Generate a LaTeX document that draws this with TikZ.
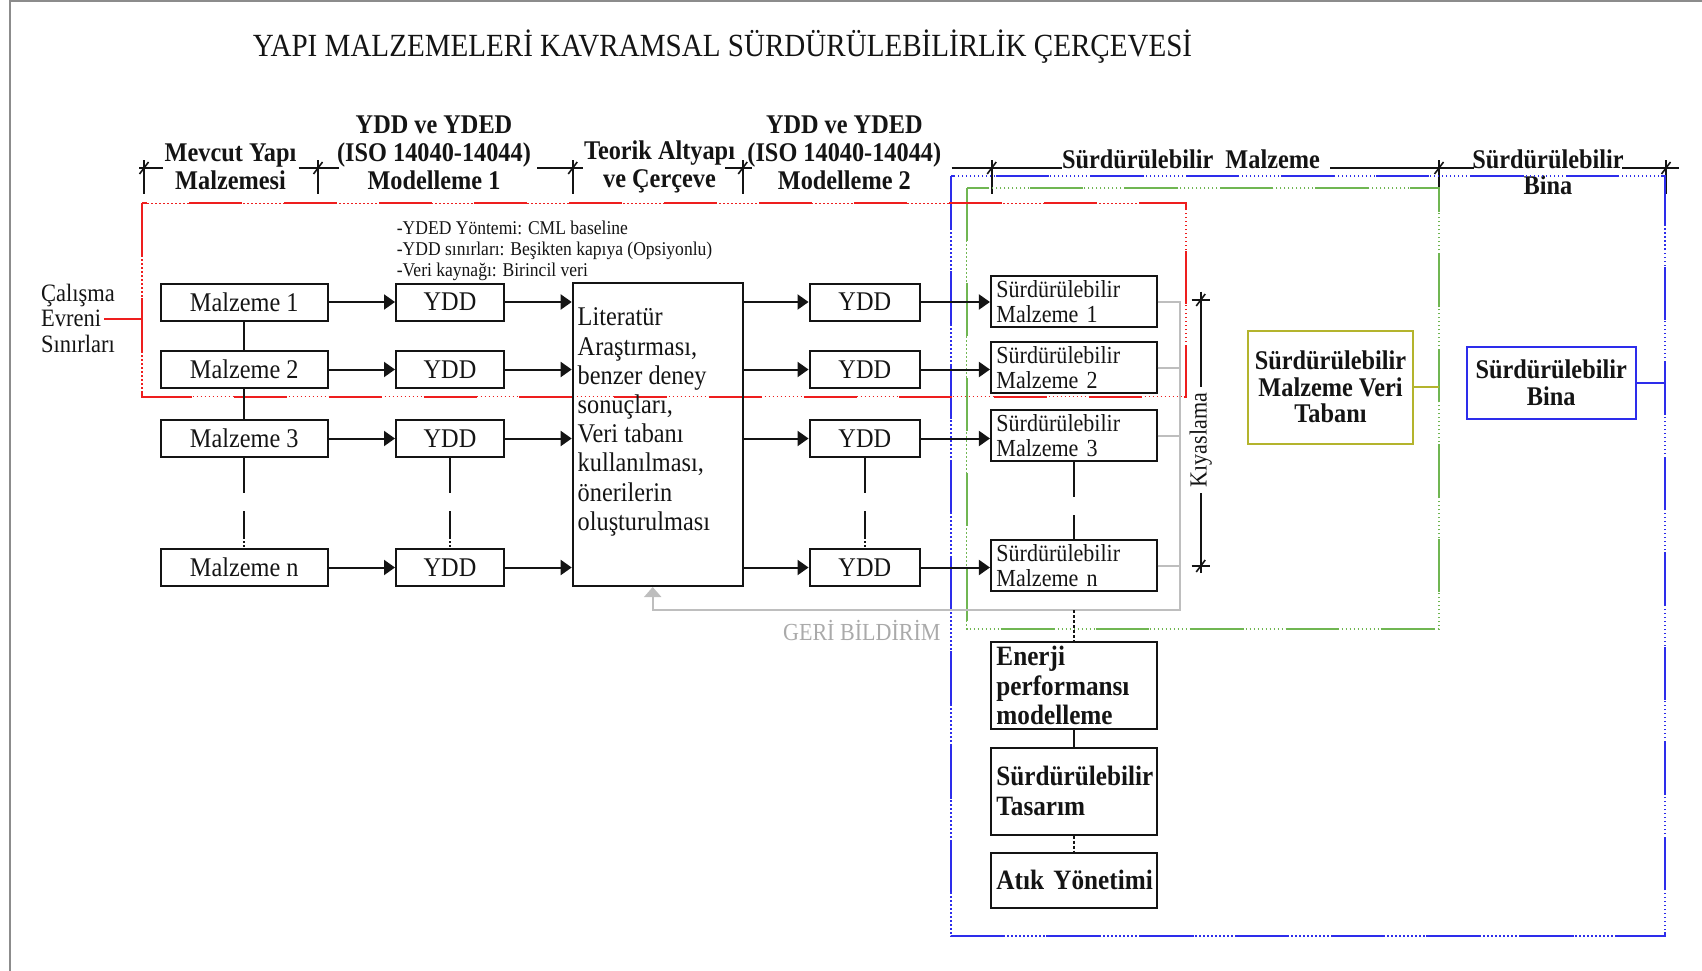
\documentclass[tikz,border=0pt]{standalone}
\usepackage{fontspec}
\setmainfont{Liberation Serif}[FakeStretch=0.9]
\usetikzlibrary{arrows.meta}

\definecolor{frRed}{RGB}{238,30,30}
\definecolor{frBlue}{RGB}{45,45,235}
\definecolor{frGreen}{RGB}{112,182,82}
\definecolor{frOlive}{RGB}{180,180,45}
\definecolor{fbGray}{RGB}{190,190,190}
\definecolor{fbText}{RGB}{170,170,170}
\definecolor{pageGray}{RGB}{140,140,140}
\definecolor{ink}{RGB}{20,20,20}

\newcommand\fTitle{\fontsize{32.3}{34}\selectfont}
\newcommand\fMain{\fontsize{27}{29.2}\selectfont}
\newcommand\fHead{\fontsize{27}{28}\selectfont\bfseries}
\newcommand\fSM{\fontsize{24.5}{25}\selectfont}
\newcommand\fNote{\fontsize{19.5}{21}\selectfont}
\newcommand\fSide{\fontsize{25}{25.5}\selectfont}
\newcommand\fBig{\fontsize{27}{26.7}\selectfont\bfseries}
\newcommand\fLow{\fontsize{28}{29.3}\selectfont\bfseries}

\begin{document}
\begin{tikzpicture}[x=1pt,y=-1pt,
  every node/.style={text=ink},
  mbox/.style={draw=ink, line width=2pt, inner sep=0pt, minimum width=167pt, minimum height=37pt, font=\fMain},
  ybox/.style={draw=ink, line width=2pt, inner sep=0pt, minimum width=108pt, minimum height=37pt, font=\fMain},
  ybtwo/.style={ybox, minimum width=110.5pt},
  smbox/.style={draw=ink, line width=2pt, inner xsep=5.5pt, inner ysep=0pt, text width=154.7pt, minimum height=51pt, align=left, font=\fSM},
  lowbox/.style={draw=ink, line width=2pt, inner xsep=5.5pt, inner ysep=0pt, text width=154.7pt, align=left, font=\fLow},
  head/.style={align=center, font=\fHead, inner sep=0pt},
  arr/.style={draw=ink, line width=2pt, -{Triangle[length=11pt,width=15pt]}},
  link/.style={draw=ink, line width=2pt},
  breakline/.style={draw=ink, line width=2pt, dash pattern=on 35pt off 18pt on 28pt off 2pt on 2pt off 2pt on 2pt off 2pt on 2pt off 30pt},
  dotline/.style={draw=ink, line width=2pt, dash pattern=on 3pt off 2pt},
  dimln/.style={draw=ink, line width=1.6pt},
  fb/.style={draw=fbGray, line width=2pt},
  framedots/.style={line width=1.3pt, dash pattern=on 1.5pt off 2.5pt},
  framedash/.style={line width=2pt, dash pattern=on 53pt off 42pt},
  dimtick/.pic={\draw[dimln] (0,-8) -- (0,26); \draw[dimln] (-4.5,6) -- (4.5,-6);},
  ktick/.pic={\draw[dimln] (-9,0) -- (9,0); \draw[dimln] (-4.5,6) -- (4.5,-6);}
]
\useasboundingbox (0,0) rectangle (1702,971);

% page edge
\draw[pageGray, line width=2pt] (9.5,971) -- (9.5,1.5) -- (1702,1.5);

% title
\node[font=\fTitle] (title) at (722.5,47) {YAPI MALZEMELERİ KAVRAMSAL SÜRDÜRÜLEBİLİRLİK ÇERÇEVESİ};

% phase headers
\node[head] (h1) at (230.5,167) {Mevcut Yapı\\Malzemesi};
\node[head] (h2) at (434,153) {YDD ve YDED\\(ISO 14040-14044)\\Modelleme 1};
\node[head] (h3) at (659.5,166.5) {Teorik Altyapı\\ve Çerçeve};
\node[head] (h4) at (844.3,153) {YDD ve YDED\\(ISO 14040-14044)\\Modelleme 2};
\node[head] (h5) at (1191,159.6) {Sürdürülebilir\ \ Malzeme};
\node[head, font=\fontsize{27}{26}\selectfont\bfseries] (h6) at (1548,172.6) {Sürdürülebilir\\Bina};

% dimension line with ticks
\draw[dimln] (139,168) -- (163,168);
\draw[dimln] (298.5,168) -- (338.7,168);
\draw[dimln] (537,168) -- (583,168);
\draw[dimln] (725,168) -- (751.7,168);
\draw[dimln] (951.7,168) -- (1062,168);
\draw[dimln] (1330,168) -- (1474,168);
\draw[dimln] (1622,168) -- (1679,168);
\foreach \tx in {144,318,572.7,742.7,991.7,1439,1666}
  \pic at (\tx,168) {dimtick};

% boundary frames: long strokes with dotted stretches between them
\foreach \col/\xa/\ya/\xb/\yb in {frBlue/951/176/1665/936, frGreen/966.7/188/1439/629, frRed/142/203.3/1186/396.7}{
  \draw[framedots, \col] (\xa,\ya) rectangle (\xb,\yb);
  \draw[framedash, \col] (\xa,\ya) rectangle (\xb,\yb);
}

% study boundary label
\node[font=\fSide, align=left, anchor=west, inner sep=0pt] (cal) at (41,318) {Çalışma\\Evreni\\Sınırları};
\coordinate (evr) at (104,319);
\coordinate (redL) at (142,319);
\draw[frRed, line width=2pt] (evr) -- (redL);

% method notes
\node[font=\fNote, align=left, anchor=west, inner sep=0pt] (notes) at (396.7,251)
  {-YDED Yöntemi: CML baseline\\-YDD sınırları: Beşikten kapıya (Opsiyonlu)\\-Veri kaynağı: Birincil veri};

% existing materials
\node[mbox] (M1) at (244.3,302) {Malzeme 1};
\node[mbox] (M2) at (244.3,369.5) {Malzeme 2};
\node[mbox] (M3) at (244.3,438.5) {Malzeme 3};
\node[mbox] (Mn) at (244.3,567.5) {Malzeme n};

% first LCA column
\node[ybox] (Ya1) at (450,302) {YDD};
\node[ybox] (Ya2) at (450,369.5) {YDD};
\node[ybox] (Ya3) at (450,438.5) {YDD};
\node[ybox] (Yan) at (450,567.5) {YDD};

% literature box
\node[draw=ink, line width=2pt, inner sep=0pt, minimum width=170pt, minimum height=303pt] (Lit) at (657.7,434.5) {};
\node[font=\fMain, align=left, anchor=west, inner sep=0pt] (LitTxt) at (577.5,422)
  {Literatür\\Araştırması,\\benzer deney\\sonuçları,\\Veri tabanı\\kullanılması,\\önerilerin\\oluşturulması};

% second LCA column
\node[ybtwo] (Yb1) at (864.8,302) {YDD};
\node[ybtwo] (Yb2) at (864.8,369.5) {YDD};
\node[ybtwo] (Yb3) at (864.8,438.5) {YDD};
\node[ybtwo] (Ybn) at (864.8,567.5) {YDD};

% sustainable materials
\node[smbox] (S1) at (1073.8,301.5) {Sürdürülebilir\\Malzeme 1};
\node[smbox] (S2) at (1073.8,367.5) {Sürdürülebilir\\Malzeme 2};
\node[smbox] (S3) at (1073.8,435.5) {Sürdürülebilir\\Malzeme 3};
\node[smbox] (Sn) at (1073.8,565.8) {Sürdürülebilir\\Malzeme n};

% building-level steps
\node[lowbox, minimum height=87pt] (En) at (1073.8,685.5) {Enerji\\performansı\\modelleme};
\node[lowbox, minimum height=87pt] (Ts) at (1073.8,791) {\mbox{Sürdürülebilir}\\Tasarım};
\node[lowbox, minimum height=55.5pt] (At) at (1073.8,880.3) {\mbox{Atık Yönetimi}};

% database and building
\node[draw=frOlive, line width=2pt, inner sep=0pt, minimum width=165pt, minimum height=113pt, align=center, font=\fBig] (VT) at (1330.5,387) {Sürdürülebilir\\Malzeme Veri\\Tabanı};
\node[draw=frBlue, line width=2pt, inner sep=0pt, minimum width=169pt, minimum height=71.8pt, align=center, font=\fBig] (Bina) at (1551.2,382.6) {Sürdürülebilir\\Bina};
\coordinate (gR) at (1439,387);
\coordinate (bR) at (1665,382.6);
\draw[frOlive, line width=2pt] (VT.east) -- (gR);
\draw[frBlue, line width=2pt] (Bina.east) -- (bR);

% column links
\draw[link] (M1) -- (M2);
\draw[link] (M2) -- (M3);
\draw[breakline] (M3) -- (Mn);
\draw[breakline] (Ya3) -- (Yan);
\draw[breakline] (Yb3) -- (Ybn);
\draw[breakline] (S3) -- (Sn);

% flow arrows
\foreach \a/\b in {M1/Ya1, M2/Ya2, M3/Ya3, Mn/Yan}{
  \draw[arr] (\a) -- (\b);
  \draw[arr] (\b.east) -- (\b.east -| Lit.west);
}
\foreach \b/\s in {Yb1/S1, Yb2/S2, Yb3/S3, Ybn/Sn}{
  \draw[arr] (\b.west -| Lit.east) -- (\b.west);
  \draw[arr] (\b.east) -- (\b.east -| \s.west);
}

% feedback loop
\coordinate (fbR) at (1180,610);
\coordinate (fbL) at (652.7,610);
\coordinate (fbJ) at (1073.8,610);
\draw[fb] (S2.east) -- (S2.east -| fbR);
\draw[fb] (S3.east) -- (S3.east -| fbR);
\draw[fb] (Sn.east) -- (Sn.east -| fbR);
\draw[fb, -{Triangle[length=10pt,width=17pt]}] (S1.east) -| (fbR) -- (fbL) -- (fbL |- Lit.south);
\node[font=\fSM, text=fbText, inner sep=0pt] (geri) at (861.8,630.7) {GERİ BİLDİRİM};

% links to the building steps
\draw[dotline] (fbJ) -- (En.north);
\draw[link] (En) -- (Ts);
\draw[dotline] (Ts) -- (At);

% benchmarking dimension
\node[rotate=90, font=\fSM, inner sep=6pt] (K) at (1200.7,440) {Kıyaslama};
\coordinate (Kt) at (1200.7,291.7);
\coordinate (Kb) at (1200.7,573);
\draw[dimln] (Kt) -- (K);
\draw[dimln] (Kb) -- (K);
\pic at (1200.7,300) {ktick};
\pic at (1200.7,566) {ktick};
\end{tikzpicture}
\end{document}
